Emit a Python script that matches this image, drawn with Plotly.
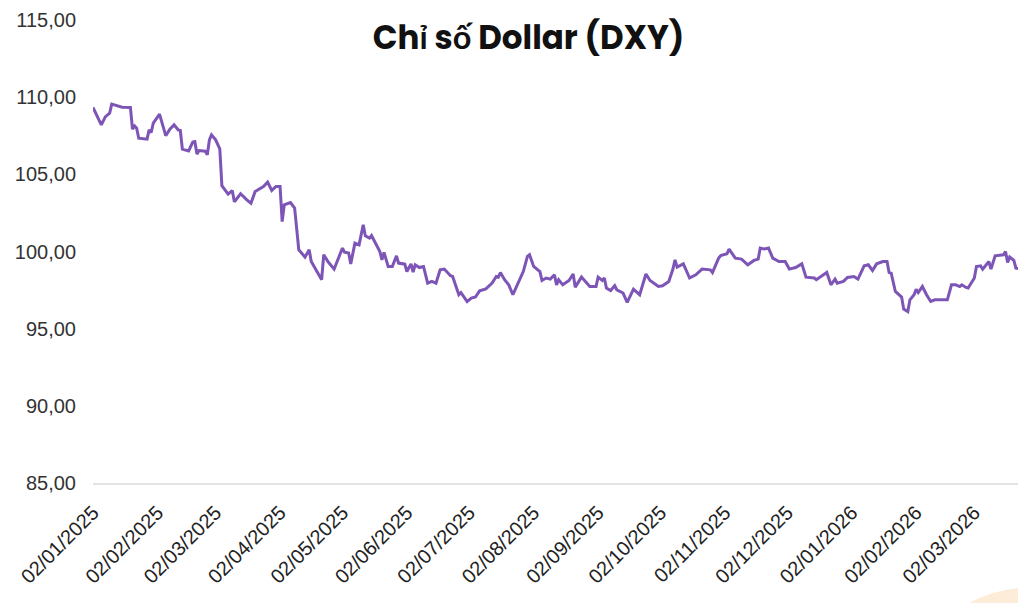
import plotly.graph_objects as go

dates = [
    "2025-01-02", "2025-01-06", "2025-01-08", "2025-01-10", "2025-01-11", "2025-01-16", "2025-01-20",
    "2025-01-21", "2025-01-22", "2025-01-23", "2025-01-24", "2025-01-28", "2025-01-29", "2025-01-30",
    "2025-01-31", "2025-02-03", "2025-02-06", "2025-02-08", "2025-02-10", "2025-02-12", "2025-02-13",
    "2025-02-14", "2025-02-17", "2025-02-19", "2025-02-20", "2025-02-21", "2025-02-22", "2025-02-25",
    "2025-02-26", "2025-02-27", "2025-02-28", "2025-03-02", "2025-03-04", "2025-03-05", "2025-03-08",
    "2025-03-10", "2025-03-11", "2025-03-14", "2025-03-17", "2025-03-19", "2025-03-21", "2025-03-24",
    "2025-03-25", "2025-03-27", "2025-03-29", "2025-03-31", "2025-04-02", "2025-04-03", "2025-04-04",
    "2025-04-07", "2025-04-09", "2025-04-11", "2025-04-14", "2025-04-16", "2025-04-17", "2025-04-22",
    "2025-04-23", "2025-04-25", "2025-04-28", "2025-05-02", "2025-05-03", "2025-05-05", "2025-05-06",
    "2025-05-08", "2025-05-10", "2025-05-12", "2025-05-13", "2025-05-15", "2025-05-16", "2025-05-20",
    "2025-05-21", "2025-05-22", "2025-05-24", "2025-05-26", "2025-05-28", "2025-05-29", "2025-06-01",
    "2025-06-02", "2025-06-04", "2025-06-05", "2025-06-06", "2025-06-08", "2025-06-10", "2025-06-12",
    "2025-06-14", "2025-06-16", "2025-06-18", "2025-06-20", "2025-06-23", "2025-06-24", "2025-06-26",
    "2025-06-27", "2025-06-28", "2025-07-01", "2025-07-03", "2025-07-05", "2025-07-07", "2025-07-10",
    "2025-07-13", "2025-07-15", "2025-07-16", "2025-07-17", "2025-07-19", "2025-07-21", "2025-07-23",
    "2025-07-28", "2025-07-30", "2025-07-31", "2025-08-02", "2025-08-05", "2025-08-06", "2025-08-08",
    "2025-08-10", "2025-08-12", "2025-08-13", "2025-08-14", "2025-08-16", "2025-08-19", "2025-08-21",
    "2025-08-22", "2025-08-25", "2025-08-27", "2025-08-29", "2025-09-01", "2025-09-02", "2025-09-04",
    "2025-09-05", "2025-09-06", "2025-09-08", "2025-09-10", "2025-09-11", "2025-09-14", "2025-09-16",
    "2025-09-19", "2025-09-22", "2025-09-25", "2025-09-27", "2025-10-01", "2025-10-03", "2025-10-06",
    "2025-10-08", "2025-10-09", "2025-10-10", "2025-10-13", "2025-10-16", "2025-10-19", "2025-10-22",
    "2025-10-26", "2025-10-27", "2025-10-30", "2025-10-31", "2025-11-03", "2025-11-04", "2025-11-07",
    "2025-11-10", "2025-11-13", "2025-11-16", "2025-11-18", "2025-11-19", "2025-11-21", "2025-11-23",
    "2025-11-25", "2025-11-28", "2025-12-01", "2025-12-03", "2025-12-06", "2025-12-09", "2025-12-11",
    "2025-12-15", "2025-12-16", "2025-12-18", "2025-12-21", "2025-12-23", "2025-12-25", "2025-12-26",
    "2025-12-29", "2025-12-31", "2026-01-03", "2026-01-05", "2026-01-08", "2026-01-10", "2026-01-12",
    "2026-01-14", "2026-01-17", "2026-01-19", "2026-01-20", "2026-01-21", "2026-01-23", "2026-01-26",
    "2026-01-27", "2026-01-29", "2026-01-30", "2026-02-01", "2026-02-02", "2026-02-03", "2026-02-05",
    "2026-02-07", "2026-02-09", "2026-02-11", "2026-02-17", "2026-02-19", "2026-02-21", "2026-02-23",
    "2026-02-24", "2026-02-26", "2026-02-27", "2026-03-02", "2026-03-03", "2026-03-05", "2026-03-06",
    "2026-03-09", "2026-03-10", "2026-03-12", "2026-03-16", "2026-03-17", "2026-03-18", "2026-03-19",
    "2026-03-21", "2026-03-22", "2026-03-23",
]

dxy = [
    109.33, 108.21, 108.74, 108.96, 109.55, 109.35, 109.33,
    107.93, 108.14, 107.99, 107.34, 107.28, 107.88, 107.71,
    108.32, 108.90, 107.51, 107.93, 108.21, 107.88, 107.84,
    106.63, 106.52, 107.09, 107.12, 106.31, 106.54, 106.50,
    106.26, 107.23, 107.56, 107.23, 106.65, 104.26, 103.72,
    103.95, 103.22, 103.74, 103.35, 103.13, 103.89, 104.15,
    104.21, 104.49, 103.95, 104.21, 104.21, 101.94, 103.02,
    103.17, 102.81, 100.11, 99.64, 100.11, 99.35, 98.17,
    99.79, 99.35, 98.86, 100.22, 99.96, 99.90, 99.20,
    100.54, 100.43, 101.73, 101.02, 100.87, 101.04, 100.00,
    99.46, 99.94, 99.03, 99.03, 99.72, 99.25, 99.18,
    98.70, 99.20, 98.67, 99.14, 98.96, 99.03, 97.95,
    98.06, 97.95, 98.81, 98.86, 98.43, 98.38, 97.56,
    97.20, 97.34, 96.76, 96.98, 97.05, 97.45, 97.58,
    97.95, 98.38, 98.34, 98.64, 98.17, 97.84, 97.20,
    98.70, 99.68, 99.79, 99.03, 98.70, 98.12, 98.28,
    98.21, 98.49, 97.84, 98.17, 97.84, 98.12, 98.54,
    97.69, 98.34, 98.06, 97.73, 97.73, 98.34, 98.12,
    98.28, 97.63, 97.47, 97.78, 97.52, 97.31, 96.70,
    97.56, 97.20, 98.54, 98.12, 97.73, 97.78, 98.06,
    98.86, 99.46, 98.99, 99.20, 98.28, 98.49, 98.86,
    98.81, 98.64, 99.57, 99.74, 99.85, 100.16, 99.57,
    99.51, 99.14, 99.42, 99.51, 100.22, 100.16, 100.22,
    99.57, 99.35, 99.35, 98.86, 98.96, 99.20, 98.34,
    98.28, 98.17, 98.38, 98.64, 97.84, 98.21, 97.95,
    98.06, 98.32, 98.38, 98.21, 99.07, 99.14, 98.77,
    99.20, 99.35, 99.35, 98.64, 98.60, 97.41, 97.05,
    96.27, 96.11, 96.87, 97.20, 97.56, 97.34, 97.73,
    97.20, 96.76, 96.87, 96.87, 97.84, 97.84, 97.73,
    97.84, 97.67, 97.63, 98.28, 99.03, 99.07, 98.86,
    99.35, 98.86, 99.72, 99.79, 100.00, 99.29, 99.64,
    99.42, 98.92, 98.90,
]

tick_dates = [
    "2025-01-02", "2025-02-02", "2025-03-02", "2025-04-02", "2025-05-02", "2025-06-02",
    "2025-07-02", "2025-08-02", "2025-09-02", "2025-10-02", "2025-11-02", "2025-12-02",
    "2026-01-02", "2026-02-02", "2026-03-02",
]
tick_labels = [
    "02/01/2025", "02/02/2025", "02/03/2025", "02/04/2025", "02/05/2025", "02/06/2025",
    "02/07/2025", "02/08/2025", "02/09/2025", "02/10/2025", "02/11/2025", "02/12/2025",
    "02/01/2026", "02/02/2026", "02/03/2026",
]
y_ticks = [85, 90, 95, 100, 105, 110, 115]

title_text = "Chỉ số Dollar (DXY)"

fig = go.Figure()
fig.add_trace(go.Scatter(
    x=dates, y=dxy, mode="lines",
    line=dict(color="#7D55B6", width=3),
    showlegend=False, hoverinfo="x+y",
))

fig.update_layout(
    width=1018, height=603,
    paper_bgcolor="white", plot_bgcolor="white",
    separators=",.",
    margin=dict(l=93, r=0, t=20, b=120),
    title=dict(
        text=title_text, x=528.5 / 1018, xref="container", xanchor="center",
        y=1 - 38 / 603, yref="container", yanchor="middle",
        font=dict(family="Poppins, Lato, 'Noto Sans', sans-serif", size=32.5, color="#111111", weight="bold"),
    ),
    font=dict(family="Liberation Sans, Arial, sans-serif", color="#222222"),
    shapes=[dict(
        type="circle", xref="paper", yref="paper",
        x0=0.875, x1=1.151, y0=-0.776, y1=-0.226,
        fillcolor="#FDEDD8", line=dict(width=0), layer="below",
    )],
)

fig.update_xaxes(
    type="date", automargin=False,
    range=["2025-01-02", "2026-03-23"],
    tickmode="array", tickvals=tick_dates, ticktext=tick_labels,
    tickangle=-45,
    tickfont=dict(size=20, color="#222222"),
    showgrid=False, zeroline=False,
    showline=True, linecolor="#E3E3E3", linewidth=2,
    ticks="", ticklabelstandoff=8,
)
fig.update_yaxes(
    range=[85, 115], automargin=False,
    tickmode="array", tickvals=y_ticks, tickformat=".2f",
    tickfont=dict(size=20, color="#333333"),
    showgrid=False, zeroline=False, showline=False,
    ticks="", ticklabelstandoff=16,
)

fig.write_html(
    "out.html",
    config={"displayModeBar": False},
    post_script="document.body.style.margin='0';document.body.style.overflow='hidden';",
)
